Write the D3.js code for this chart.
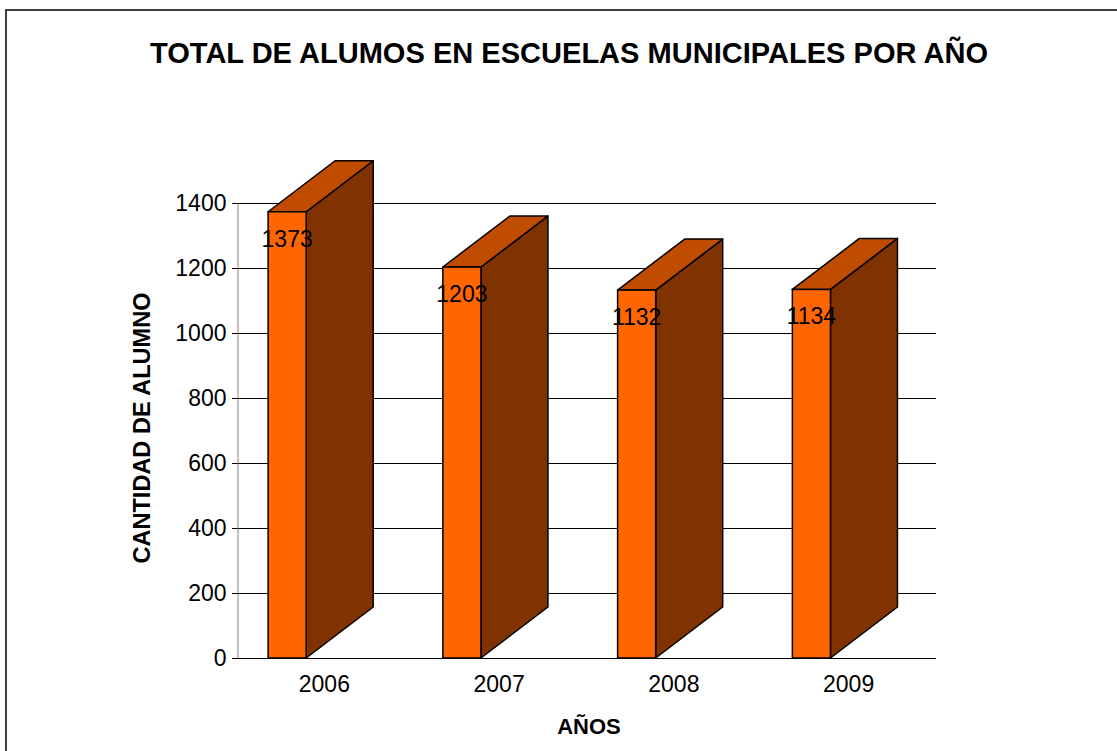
<!DOCTYPE html>
<meta charset="utf-8">
<body style="margin:0;background:#fff">
<script src="https://cdn.jsdelivr.net/npm/d3@7"></script>
<script>
	// data
	var years = ["2006", "2007", "2008", "2009"];
	var alumnos = [1373, 1203, 1132, 1134];
	var yTicks = [0, 200, 400, 600, 800, 1000, 1200, 1400];

	var W = 1117, H = 751;
	var svg = d3.select("body").append("svg")
		.attr("width", W)
		.attr("height", H)
		.style("display", "block")
		.style("font-family", "'Liberation Sans', Arial, sans-serif");

	// frame round the chart
	svg.append("rect")
		.attr("x", 6).attr("y", 10)
		.attr("width", 1200).attr("height", 900)
		.attr("fill", "none")
		.attr("stroke", "#404040")
		.attr("stroke-width", 2);

	var x = d3.scaleBand().domain(years).range([237, 936]);
	var y = d3.scaleLinear().domain([0, 1400]).range([658, 203]);

	var bw = x.bandwidth();
	var frontOff = bw * 0.178, frontW = bw * 0.218;  // front face inside band
	var dx = 67, dy = -51;                          // depth of the 3d box

	// grid lines
	svg.append("g").selectAll("line")
		.data(yTicks.slice(1))
		.enter().append("line")
		.attr("x1", 232).attr("x2", 936)
		.attr("y1", function(d){ return Math.round(y(d)) + 0.5; })
		.attr("y2", function(d){ return Math.round(y(d)) + 0.5; })
		.attr("stroke", "#000")
		.attr("stroke-width", 1);

	// y axis
	var yAxis = svg.append("g")
		.attr("transform", "translate(237.5,0)")
		.call(d3.axisLeft(y).tickValues(yTicks).tickFormat(d3.format("d")).tickSize(5).tickPadding(6));
	yAxis.select(".domain").attr("stroke", "#808080");
	yAxis.selectAll("line").attr("stroke", "#000");
	yAxis.selectAll("text")
		.attr("font-size", "23px")
		.attr("font-family", "'Liberation Sans', Arial, sans-serif")
		.attr("fill", "#000");

	// bars
	var bars = svg.append("g").selectAll("g")
		.data(alumnos)
		.enter().append("g");

	function fx(i){ return x(years[i]) + frontOff; }

	// side face
	bars.append("path")
		.attr("d", function(d, i){
			var x1 = fx(i) + frontW, y0 = y(0), y1 = y(d);
			return "M" + x1 + "," + y0 + "L" + x1 + "," + y1 +
				"L" + (x1 + dx) + "," + (y1 + dy) + "L" + (x1 + dx) + "," + (y0 + dy) + "Z";
		})
		.attr("fill", "#803300")
		.attr("stroke", "#000")
		.attr("stroke-width", 1.5)
		.attr("stroke-linejoin", "round");

	// top face
	bars.append("path")
		.attr("d", function(d, i){
			var x0 = fx(i), x1 = x0 + frontW, y1 = y(d);
			return "M" + x0 + "," + y1 + "L" + x1 + "," + y1 +
				"L" + (x1 + dx) + "," + (y1 + dy) + "L" + (x0 + dx) + "," + (y1 + dy) + "Z";
		})
		.attr("fill", "#C04C00")
		.attr("stroke", "#000")
		.attr("stroke-width", 1.5)
		.attr("stroke-linejoin", "round");

	// front face
	bars.append("rect")
		.attr("x", function(d, i){ return fx(i); })
		.attr("y", function(d){ return y(d); })
		.attr("width", frontW)
		.attr("height", function(d){ return y(0) - y(d); })
		.attr("fill", "#FF6600")
		.attr("stroke", "#000")
		.attr("stroke-width", 1.5);

	// base line
	svg.append("line")
		.attr("x1", 232).attr("x2", 936)
		.attr("y1", y(0) + 0.5).attr("y2", y(0) + 0.5)
		.attr("stroke", "#000");

	// value labels
	bars.append("text")
		.attr("x", function(d, i){ return fx(i) + frontW / 2; })
		.attr("y", function(d){ return y(d) + 35; })
		.attr("text-anchor", "middle")
		.attr("font-size", "23px")
		.attr("fill", "#000")
		.text(function(d){ return d; });

	// x labels
	svg.append("g").selectAll("text")
		.data(years)
		.enter().append("text")
		.attr("x", function(d){ return x(d) + bw / 2; })
		.attr("y", 692)
		.attr("text-anchor", "middle")
		.attr("font-size", "23px")
		.text(function(d){ return d; });

	// titles
	svg.append("text")
		.attr("x", 150).attr("y", 63)
		.attr("font-size", "30px")
		.attr("font-weight", "bold")
		.attr("textLength", 838)
		.attr("lengthAdjust", "spacingAndGlyphs")
		.text("TOTAL DE ALUMOS EN ESCUELAS MUNICIPALES POR AÑO");

	svg.append("text")
		.attr("transform", "translate(150,428) rotate(-90)")
		.attr("text-anchor", "middle")
		.attr("font-size", "23px")
		.attr("font-weight", "bold")
		.attr("textLength", 271)
		.attr("lengthAdjust", "spacingAndGlyphs")
		.text("CANTIDAD DE ALUMNO");

	svg.append("text")
		.attr("x", 589).attr("y", 734)
		.attr("text-anchor", "middle")
		.attr("font-size", "22px")
		.attr("font-weight", "bold")
		.text("AÑOS");
</script>
</body>
